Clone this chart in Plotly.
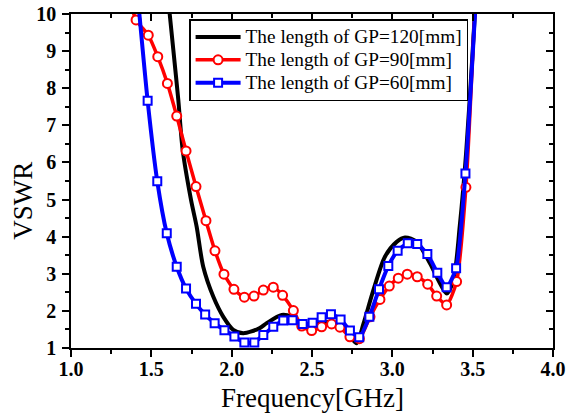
import plotly.graph_objects as go

# VSWR vs frequency for three ground plane lengths
freq_120 = [1.605, 1.637, 1.668, 1.695, 1.747, 1.782, 1.823, 1.886, 1.948, 2.010, 2.072, 2.172,
            2.218, 2.311, 2.373, 2.425, 2.500, 2.600, 2.680, 2.740, 2.778, 2.820, 2.882, 2.954,
            3.027, 3.079, 3.152, 3.234, 3.297, 3.338, 3.380, 3.420, 3.460, 3.500, 3.520]
vswr_120 = [10.4, 9.03, 7.68, 6.34, 4.99, 4.27, 3.19, 2.38, 1.84, 1.49, 1.40, 1.53,
            1.67, 1.89, 1.84, 1.67, 1.62, 1.70, 1.58, 1.30, 1.13, 1.65, 2.56, 3.46,
            3.86, 3.98, 3.86, 3.28, 2.74, 2.47, 2.83, 4.30, 6.30, 9.00, 10.5]

freq_90 = [1.345, 1.405, 1.481, 1.540, 1.600, 1.658, 1.716, 1.778, 1.840, 1.896, 1.952, 2.014,
           2.079, 2.139, 2.197, 2.259, 2.317, 2.384, 2.436, 2.498, 2.560, 2.622, 2.674, 2.736,
           2.795, 2.861, 2.923, 2.981, 3.037, 3.093, 3.155, 3.220, 3.276, 3.338, 3.400, 3.458,
           3.518]
vswr_90 = [10.7, 9.84, 9.43, 8.85, 8.13, 7.25, 6.31, 5.35, 4.43, 3.62, 2.99, 2.58,
           2.37, 2.40, 2.56, 2.64, 2.42, 2.01, 1.59, 1.47, 1.57, 1.65, 1.56, 1.30,
           1.25, 1.84, 2.31, 2.67, 2.88, 2.99, 2.92, 2.72, 2.40, 2.16, 2.79, 5.33,
           10.6]

freq_60 = [1.417, 1.477, 1.537, 1.596, 1.658, 1.716, 1.778, 1.835, 1.894, 1.955, 2.017, 2.079,
           2.141, 2.197, 2.259, 2.321, 2.379, 2.442, 2.504, 2.560, 2.618, 2.678, 2.736, 2.794,
           2.857, 2.917, 2.975, 3.033, 3.096, 3.155, 3.218, 3.280, 3.338, 3.397, 3.455, 3.517]
vswr_60 = [10.4, 7.66, 5.49, 4.09, 3.19, 2.60, 2.19, 1.90, 1.67, 1.48, 1.31, 1.15,
           1.15, 1.35, 1.57, 1.74, 1.75, 1.65, 1.68, 1.83, 1.91, 1.77, 1.47, 1.29,
           1.84, 2.58, 3.21, 3.62, 3.82, 3.80, 3.53, 3.03, 2.64, 3.15, 5.70, 10.2]

names = ["The length of GP=120[mm]", "The length of GP=90[mm]", "The length of GP=60[mm]"]

FONT = "Liberation Serif"

def leg(s):
    # bigger text than the legend font so rows stay tight like the original
    return "<span style='font-size:19.3px'>" + s + "</span>"

fig = go.Figure()
fig.add_trace(go.Scatter(x=freq_120, y=vswr_120, name=leg(names[0]), mode="lines",
                         line=dict(color="black", width=4, shape="spline", smoothing=0.8)))
fig.add_trace(go.Scatter(x=freq_90, y=vswr_90, name=leg(names[1]), mode="lines+markers",
                         line=dict(color="#ff0000", width=3.5, shape="spline", smoothing=0.6),
                         marker=dict(symbol="circle", size=9, color="white",
                                     line=dict(color="#ff0000", width=2))))
fig.add_trace(go.Scatter(x=freq_60, y=vswr_60, name=leg(names[2]), mode="lines+markers",
                         line=dict(color="#0000ff", width=4, shape="spline", smoothing=0.6),
                         marker=dict(symbol="square", size=8, color="white",
                                     line=dict(color="#0000ff", width=2))))
# dummy trace so the top/right mirror axes get drawn
fig.add_trace(go.Scatter(x=[], y=[], xaxis="x2", yaxis="y2", showlegend=False))

tickfont = dict(family=FONT, size=20, color="black", weight="bold")
ax_common = dict(showgrid=False, zeroline=False, automargin=False,
                 showline=True, linecolor="black", linewidth=1.5,
                 ticklen=7, tickwidth=1.5, tickcolor="black")

fig.update_layout(
    template="none",
    width=568, height=418,
    margin=dict(l=71, r=15, t=14, b=70),
    paper_bgcolor="white", plot_bgcolor="white",
    font=dict(family=FONT, color="black"),
    xaxis=dict(range=[1, 4], dtick=0.5, tickformat=".1f", ticks="outside",
               minor=dict(ticks="outside", dtick=0.25, ticklen=4, tickwidth=1.5, tickcolor="black"),
               tickfont=tickfont, ticklabelstandoff=-5, **ax_common),
    yaxis=dict(range=[1, 10], dtick=1, ticks="outside",
               minor=dict(ticks="outside", dtick=0.5, ticklen=4, tickwidth=1.5, tickcolor="black"),
               tickfont=tickfont, ticklabelstandoff=2, **ax_common),
    xaxis2=dict(range=[1, 4], dtick=0.5, overlaying="x", side="top", ticks="inside",
                minor=dict(ticks="inside", dtick=0.25, ticklen=4, tickwidth=1.5, tickcolor="black"),
                showticklabels=False, **ax_common),
    yaxis2=dict(range=[1, 10], dtick=1, overlaying="y", side="right", ticks="inside",
                minor=dict(ticks="inside", dtick=0.5, ticklen=4, tickwidth=1.5, tickcolor="black"),
                showticklabels=False, **ax_common),
    legend=dict(x=0.245, y=0.985, xanchor="left", yanchor="top",
                bgcolor="white", bordercolor="black", borderwidth=1.5,
                font=dict(family=FONT, size=15.3, color="black"),
                itemwidth=45, tracegroupgap=0),
    showlegend=True,
    annotations=[
        dict(text="Frequency[GHz]", xref="paper", yref="paper", x=0.5, y=-0.15,
             xanchor="center", yanchor="middle", showarrow=False,
             font=dict(family=FONT, size=27, color="black")),
        dict(text="VSWR", xref="paper", yref="paper", x=-0.1, y=0.44, textangle=-90,
             xanchor="center", yanchor="middle", showarrow=False,
             font=dict(family=FONT, size=27, color="black")),
    ],
)

# drop the default 8px page margin so the figure sits at the window corner
fig.write_html("out.html", config={"displayModeBar": False},
               post_script="document.body.style.margin='0';")
